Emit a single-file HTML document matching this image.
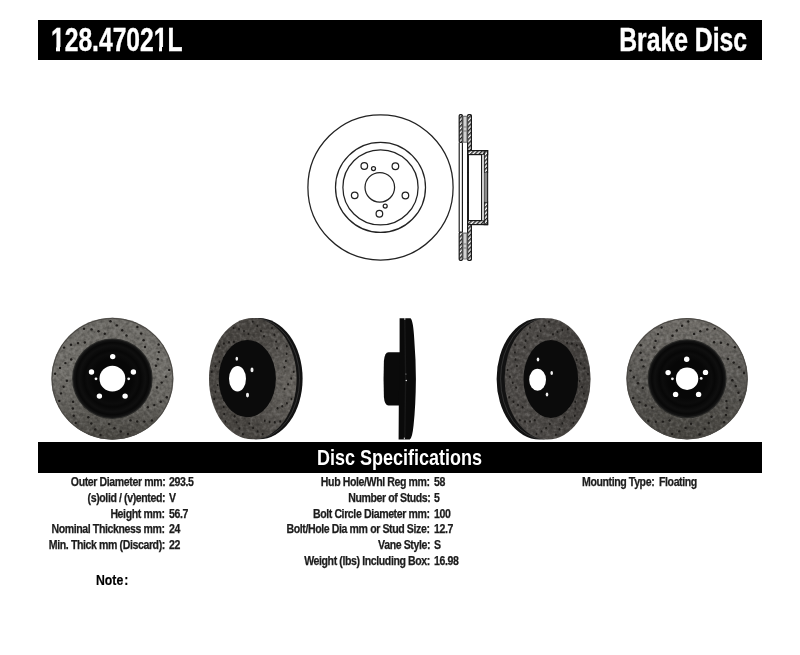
<!DOCTYPE html>
<html><head><meta charset="utf-8">
<style>
*{margin:0;padding:0;box-sizing:border-box}
html,body{width:800px;height:655px;background:#fff;overflow:hidden}
body{position:relative;font-family:"Liberation Sans",sans-serif;font-weight:bold;color:#1c1c1c}
.bar{position:absolute;background:#000}
.t{position:absolute;white-space:nowrap;line-height:1}
.l{transform-origin:right top;transform:scaleX(.88);letter-spacing:-.45px}
.r{transform-origin:left top;transform:scaleX(.88);letter-spacing:-.45px}
.s{font-size:12px;-webkit-text-stroke:.25px #1c1c1c}
</style></head><body>
<div class="bar" style="left:38px;top:20px;width:724px;height:40px"></div>
<div class="t" style="left:51.3px;top:24px;font-size:32.5px;color:#fff;-webkit-text-stroke:.4px #fff;transform-origin:left top;transform:scaleX(.758)">128.47021L</div>
<div class="t" style="right:53px;top:24px;font-size:32.5px;color:#fff;-webkit-text-stroke:.4px #fff;transform-origin:right top;transform:scaleX(.761)">Brake Disc</div>
<div class="bar" style="left:51px;top:47px;width:5.4px;height:5px"></div>
<div class="bar" style="left:60.4px;top:47px;width:4.3px;height:5px"></div>
<div class="bar" style="left:154px;top:47px;width:4.5px;height:5px"></div>
<div class="bar" style="left:162.4px;top:47px;width:4.8px;height:5px"></div>
<svg style="position:absolute;left:0;top:0" width="800" height="655" viewBox="0 0 800 655">
 <defs>
  <pattern id="hatch" width="3" height="3" patternUnits="userSpaceOnUse" patternTransform="rotate(45)">
   <rect width="3" height="3" fill="#fff"/><rect width="1.5" height="3" fill="#2a2a2a"/></pattern>
 </defs>
 <g fill="none" stroke="#222" stroke-width="1.25">
  <circle cx="380.5" cy="187.4" r="72.6"/>
  <circle cx="380.5" cy="187.4" r="45"/>
  <circle cx="380.5" cy="187.4" r="37.6"/>
  <circle cx="379.8" cy="187.3" r="14.8"/>
  <circle cx="379.4" cy="213.7" r="3.3"/>
  <circle cx="354.7" cy="195.3" r="3.3"/>
  <circle cx="364.3" cy="166" r="3.3"/>
  <circle cx="395.4" cy="166.2" r="3.3"/>
  <circle cx="405.4" cy="195.5" r="3.3"/>
  <circle cx="373.5" cy="168.6" r="2"/>
  <circle cx="385.2" cy="206" r="2"/>
 </g>
 <!-- side profile -->
 <g stroke="#181818" stroke-width="1.2">
  <rect x="459.2" y="114.6" width="3.2" height="27.8" rx="1.2" fill="url(#hatch)"/>
  <rect x="467.6" y="114.6" width="3.8" height="36" rx="1.2" fill="url(#hatch)"/>
  <rect x="459.2" y="232" width="3.2" height="28.4" rx="1.2" fill="url(#hatch)"/>
  <rect x="467.6" y="224.5" width="3.8" height="35.9" rx="1.2" fill="url(#hatch)"/>
  <rect x="467.6" y="150.6" width="20" height="4" fill="url(#hatch)"/>
  <rect x="467.6" y="220.6" width="20" height="4" fill="url(#hatch)"/>
  <rect x="484.2" y="150.6" width="3.4" height="21.8" fill="url(#hatch)"/>
  <rect x="484.2" y="202.2" width="3.4" height="22.4" fill="url(#hatch)"/>
 </g>
 <g stroke="#555" stroke-width="0.8">
  <rect x="462.8" y="116.2" width="4.4" height="26" fill="#a8a8a8"/>
  <rect x="462.8" y="233" width="4.4" height="26" fill="#a8a8a8"/>
 </g>
 <path d="M465 117 V141.5 M465 234 V258.5" stroke="#e6e6e6" stroke-width="1.3"/>
 <path d="M463.5 127 H466.5 M463.5 131 H466.5 M463.5 244 H466.5 M463.5 248 H466.5" stroke="#666" stroke-width="0.8"/>
 <g fill="none" stroke="#181818" stroke-width="1.15">
  <path d="M459.2 142.4 V232 M462.4 142.4 V232 M467.6 150.6 V224.6 M468.4 154.6 V220.6 M481.6 154.6 V220.6 M484.2 172.4 V202.2 M487.6 172.4 V202.2"/>
 </g>
 <rect x="482" y="154.8" width="2" height="65.6" fill="#d0d0d0"/>
 <rect x="484.7" y="172.4" width="2.4" height="29.8" fill="#8a8a8a"/>
</svg>
<svg style="position:absolute;left:0;top:0" width="800" height="655" viewBox="0 0 800 655"><defs>
<linearGradient id="rim1" x1="0" y1="0" x2="0" y2="1">
 <stop offset="0" stop-color="#6c6a65"/><stop offset="0.45" stop-color="#716f6a"/><stop offset="0.75" stop-color="#5f5d58"/><stop offset="1" stop-color="#46443f"/></linearGradient>
<radialGradient id="rim2" cx="0.92" cy="0.55" r="0.55">
 <stop offset="0" stop-color="#66635e"/><stop offset="0.6" stop-color="#55524e"/><stop offset="1" stop-color="#484541"/></radialGradient>
<linearGradient id="rim4" x1="0" y1="0" x2="1" y2="0">
 <stop offset="0" stop-color="#4d4a47"/><stop offset="0.5" stop-color="#4a4744"/><stop offset="1" stop-color="#403d3a"/></linearGradient>
<linearGradient id="rim5" x1="0" y1="0" x2="0" y2="1">
 <stop offset="0" stop-color="#716e69"/><stop offset="0.5" stop-color="#5a5854"/><stop offset="1" stop-color="#46443f"/></linearGradient>
<radialGradient id="hat"><stop offset="0.5" stop-color="#070707"/><stop offset="0.64" stop-color="#0c0c0c"/><stop offset="0.72" stop-color="#070707"/><stop offset="0.84" stop-color="#0f0f0f"/><stop offset="0.92" stop-color="#080808"/><stop offset="1" stop-color="#161616"/></radialGradient>
<filter id="nzw" x="0" y="0" width="100%" height="100%">
 <feTurbulence type="fractalNoise" baseFrequency="0.3" numOctaves="2" seed="7" result="t"/>
 <feColorMatrix in="t" type="matrix" values="0 0 0 0 1  0 0 0 0 1  0 0 0 0 1  0.4 0 0 0 -0.2" result="g"/>
 <feComposite in="g" in2="SourceAlpha" operator="in"/>
</filter>
<filter id="nzb" x="0" y="0" width="100%" height="100%">
 <feTurbulence type="fractalNoise" baseFrequency="0.3" numOctaves="2" seed="7" result="t"/>
 <feColorMatrix in="t" type="matrix" values="0 0 0 0 0  0 0 0 0 0  0 0 0 0 0  -0.65 0 0 0 0.325" result="g"/>
 <feComposite in="g" in2="SourceAlpha" operator="in"/>
</filter>
</defs><circle cx="112.4" cy="378.7" r="61" fill="url(#rim1)"/>
<circle cx="112.4" cy="378.7" r="61" fill="#000" filter="url(#nzw)"/>
<circle cx="112.4" cy="378.7" r="61" fill="#000" filter="url(#nzb)"/>
<circle cx="112.4" cy="378.7" r="60.4" fill="none" stroke="#4a4844" stroke-width="1"/>
<g fill="#1e1c1a"><ellipse cx="110.5" cy="321.2" rx="1.2" ry="1.2"/><ellipse cx="116.8" cy="325.4" rx="1.2" ry="1.2"/><ellipse cx="122.2" cy="330.2" rx="1.2" ry="1.2"/><ellipse cx="126.5" cy="335.5" rx="1.2" ry="1.2"/><ellipse cx="137.4" cy="326.9" rx="1.2" ry="1.2"/><ellipse cx="141.1" cy="333.6" rx="1.2" ry="1.2"/><ellipse cx="143.6" cy="340.3" rx="1.2" ry="1.2"/><ellipse cx="145.0" cy="347.0" rx="1.2" ry="1.2"/><ellipse cx="158.6" cy="344.5" rx="1.2" ry="1.2"/><ellipse cx="158.8" cy="352.1" rx="1.2" ry="1.2"/><ellipse cx="157.9" cy="359.2" rx="1.2" ry="1.2"/><ellipse cx="156.0" cy="365.8" rx="1.2" ry="1.2"/><ellipse cx="169.2" cy="369.9" rx="1.2" ry="1.2"/><ellipse cx="165.9" cy="376.7" rx="1.2" ry="1.2"/><ellipse cx="161.7" cy="382.6" rx="1.2" ry="1.2"/><ellipse cx="157.0" cy="387.5" rx="1.2" ry="1.2"/><ellipse cx="166.8" cy="397.3" rx="1.2" ry="1.2"/><ellipse cx="160.7" cy="401.8" rx="1.2" ry="1.2"/><ellipse cx="154.3" cy="405.1" rx="1.2" ry="1.2"/><ellipse cx="147.8" cy="407.3" rx="1.2" ry="1.2"/><ellipse cx="151.9" cy="420.5" rx="1.2" ry="1.2"/><ellipse cx="144.4" cy="421.6" rx="1.2" ry="1.2"/><ellipse cx="137.2" cy="421.5" rx="1.2" ry="1.2"/><ellipse cx="130.5" cy="420.4" rx="1.2" ry="1.2"/><ellipse cx="128.0" cy="434.0" rx="1.2" ry="1.2"/><ellipse cx="120.8" cy="431.5" rx="1.2" ry="1.2"/><ellipse cx="114.5" cy="428.2" rx="1.2" ry="1.2"/><ellipse cx="109.0" cy="424.1" rx="1.2" ry="1.2"/><ellipse cx="100.5" cy="435.0" rx="1.2" ry="1.2"/><ellipse cx="95.3" cy="429.4" rx="1.2" ry="1.2"/><ellipse cx="91.3" cy="423.5" rx="1.2" ry="1.2"/><ellipse cx="88.3" cy="417.3" rx="1.2" ry="1.2"/><ellipse cx="75.7" cy="423.0" rx="1.2" ry="1.2"/><ellipse cx="73.7" cy="415.7" rx="1.2" ry="1.2"/><ellipse cx="72.9" cy="408.5" rx="1.2" ry="1.2"/><ellipse cx="73.1" cy="401.7" rx="1.2" ry="1.2"/><ellipse cx="59.3" cy="400.9" rx="1.2" ry="1.2"/><ellipse cx="61.0" cy="393.4" rx="1.2" ry="1.2"/><ellipse cx="63.6" cy="386.7" rx="1.2" ry="1.2"/><ellipse cx="66.9" cy="380.8" rx="1.2" ry="1.2"/><ellipse cx="55.1" cy="373.7" rx="1.2" ry="1.2"/><ellipse cx="60.0" cy="367.9" rx="1.2" ry="1.2"/><ellipse cx="65.4" cy="363.1" rx="1.2" ry="1.2"/><ellipse cx="71.2" cy="359.5" rx="1.2" ry="1.2"/><ellipse cx="64.0" cy="347.6" rx="1.2" ry="1.2"/><ellipse cx="71.0" cy="344.8" rx="1.2" ry="1.2"/><ellipse cx="78.0" cy="343.1" rx="1.2" ry="1.2"/><ellipse cx="84.8" cy="342.5" rx="1.2" ry="1.2"/><ellipse cx="84.0" cy="328.7" rx="1.2" ry="1.2"/><ellipse cx="91.6" cy="329.4" rx="1.2" ry="1.2"/><ellipse cx="98.5" cy="331.2" rx="1.2" ry="1.2"/><ellipse cx="104.8" cy="333.8" rx="1.2" ry="1.2"/></g>
<circle cx="112.4" cy="378.7" r="40.3" fill="#2a2a28"/>
<circle cx="112.4" cy="378.7" r="39.3" fill="url(#hat)"/>
<circle cx="112.4" cy="378.7" r="12.9" fill="#fff"/>
<circle cx="112.7" cy="356.6" r="2.7" fill="#fff"/>
<circle cx="91.5" cy="372" r="2.7" fill="#fff"/>
<circle cx="133.4" cy="372" r="2.7" fill="#fff"/>
<circle cx="99.4" cy="396.1" r="2.7" fill="#fff"/>
<circle cx="125.1" cy="396.1" r="2.7" fill="#fff"/>
<circle cx="96" cy="378.8" r="1.4" fill="#f4f4f4"/>
<circle cx="128.7" cy="378.8" r="1.4" fill="#f4f4f4"/>
<ellipse cx="258.8" cy="378.7" rx="43.8" ry="60.6" fill="#121212"/>
<ellipse cx="255.8" cy="378.7" rx="43.8" ry="60.1" fill="none" stroke="#3a3a3a" stroke-width="0.8"/>
<ellipse cx="252.8" cy="378.7" rx="43.8" ry="60.6" fill="url(#rim2)"/>
<ellipse cx="252.8" cy="378.7" rx="43.8" ry="60.6" fill="#000" filter="url(#nzw)"/>
<ellipse cx="252.8" cy="378.7" rx="43.8" ry="60.6" fill="#000" filter="url(#nzb)"/>
<g fill="#1e1c1a"><ellipse cx="252.8" cy="321.6" rx="0.9" ry="1.2"/><ellipse cx="257.3" cy="325.9" rx="0.9" ry="1.2"/><ellipse cx="261.0" cy="330.9" rx="0.9" ry="1.2"/><ellipse cx="264.0" cy="336.2" rx="0.9" ry="1.2"/><ellipse cx="272.0" cy="328.1" rx="0.9" ry="1.2"/><ellipse cx="274.5" cy="334.8" rx="0.9" ry="1.2"/><ellipse cx="276.1" cy="341.6" rx="0.9" ry="1.2"/><ellipse cx="277.0" cy="348.3" rx="0.9" ry="1.2"/><ellipse cx="286.8" cy="346.3" rx="0.9" ry="1.2"/><ellipse cx="286.7" cy="353.8" rx="0.9" ry="1.2"/><ellipse cx="285.9" cy="360.9" rx="0.9" ry="1.2"/><ellipse cx="284.4" cy="367.3" rx="0.9" ry="1.2"/><ellipse cx="293.8" cy="371.8" rx="0.9" ry="1.2"/><ellipse cx="291.2" cy="378.5" rx="0.9" ry="1.2"/><ellipse cx="288.1" cy="384.2" rx="0.9" ry="1.2"/><ellipse cx="284.6" cy="388.9" rx="0.9" ry="1.2"/><ellipse cx="291.4" cy="399.0" rx="0.9" ry="1.2"/><ellipse cx="286.9" cy="403.2" rx="0.9" ry="1.2"/><ellipse cx="282.2" cy="406.3" rx="0.9" ry="1.2"/><ellipse cx="277.5" cy="408.2" rx="0.9" ry="1.2"/><ellipse cx="280.2" cy="421.5" rx="0.9" ry="1.2"/><ellipse cx="274.8" cy="422.3" rx="0.9" ry="1.2"/><ellipse cx="269.6" cy="422.0" rx="0.9" ry="1.2"/><ellipse cx="264.8" cy="420.7" rx="0.9" ry="1.2"/><ellipse cx="262.7" cy="434.2" rx="0.9" ry="1.2"/><ellipse cx="257.6" cy="431.4" rx="0.9" ry="1.2"/><ellipse cx="253.1" cy="427.9" rx="0.9" ry="1.2"/><ellipse cx="249.3" cy="423.6" rx="0.9" ry="1.2"/><ellipse cx="242.9" cy="434.2" rx="0.9" ry="1.2"/><ellipse cx="239.3" cy="428.5" rx="0.9" ry="1.2"/><ellipse cx="236.6" cy="422.4" rx="0.9" ry="1.2"/><ellipse cx="234.6" cy="416.2" rx="0.9" ry="1.2"/><ellipse cx="225.4" cy="421.5" rx="0.9" ry="1.2"/><ellipse cx="224.2" cy="414.1" rx="0.9" ry="1.2"/><ellipse cx="223.7" cy="407.0" rx="0.9" ry="1.2"/><ellipse cx="224.1" cy="400.2" rx="0.9" ry="1.2"/><ellipse cx="214.2" cy="399.0" rx="0.9" ry="1.2"/><ellipse cx="215.5" cy="391.7" rx="0.9" ry="1.2"/><ellipse cx="217.6" cy="385.1" rx="0.9" ry="1.2"/><ellipse cx="220.1" cy="379.3" rx="0.9" ry="1.2"/><ellipse cx="211.8" cy="371.8" rx="0.9" ry="1.2"/><ellipse cx="215.5" cy="366.2" rx="0.9" ry="1.2"/><ellipse cx="219.5" cy="361.7" rx="0.9" ry="1.2"/><ellipse cx="223.7" cy="358.2" rx="0.9" ry="1.2"/><ellipse cx="218.8" cy="346.3" rx="0.9" ry="1.2"/><ellipse cx="223.9" cy="343.6" rx="0.9" ry="1.2"/><ellipse cx="229.0" cy="342.2" rx="0.9" ry="1.2"/><ellipse cx="233.9" cy="341.8" rx="0.9" ry="1.2"/><ellipse cx="233.6" cy="328.1" rx="0.9" ry="1.2"/><ellipse cx="239.0" cy="329.1" rx="0.9" ry="1.2"/><ellipse cx="244.0" cy="331.1" rx="0.9" ry="1.2"/><ellipse cx="248.4" cy="333.9" rx="0.9" ry="1.2"/></g>
<ellipse cx="247.3" cy="378.6" rx="28.6" ry="38.7" fill="#0b0b0b"/>
<ellipse cx="237.5" cy="378.7" rx="8.5" ry="12.7" fill="#fff"/>
<ellipse cx="236.8" cy="358.8" rx="1.3" ry="2" fill="#f0f0f0"/>
<ellipse cx="252" cy="369.9" rx="1.5" ry="2.3" fill="#f0f0f0"/>
<ellipse cx="247.5" cy="395.1" rx="1.5" ry="2.3" fill="#f0f0f0"/>
<g fill="#0a0a0a">
<path d="M388.5 352.2 L400.5 352.2 L400.5 405.6 L388.5 405.6 Q384.6 405.6 383.9 397 Q383.2 379 383.9 361 Q384.6 352.2 388.5 352.2 Z"/>
<path d="M399.6 318.2 L410.5 318.2 Q413.2 320 414.3 340 Q415.9 360 415.9 379 Q415.7 405 413.6 425 Q412.3 438 409.8 439.6 L398.6 439.6 L398.8 404 L399.6 352 Z"/>
</g>
<g fill="none" stroke="#181818" stroke-width="1.4"><path d="M404.8 320 Q406.5 379 404.8 438"/></g>
<rect x="404.2" y="318" width="1.2" height="1.8" fill="#bbb"/><rect x="403.8" y="437.6" width="1.2" height="1.8" fill="#bbb"/><circle cx="405.9" cy="374" r="0.6" fill="#999"/><circle cx="406.3" cy="380.5" r="0.8" fill="#ddd"/>
<ellipse cx="539.6" cy="378.9" rx="43" ry="60.6" fill="#121212"/>
<ellipse cx="543.6" cy="378.9" rx="43" ry="60.1" fill="none" stroke="#3a3a3a" stroke-width="0.8"/>
<ellipse cx="547.6" cy="378.9" rx="43" ry="60.6" fill="url(#rim4)"/>
<ellipse cx="547.6" cy="378.9" rx="43" ry="60.6" fill="#000" filter="url(#nzw)"/>
<ellipse cx="547.6" cy="378.9" rx="43" ry="60.6" fill="#000" filter="url(#nzb)"/>
<g fill="#1e1c1a"><ellipse cx="549.0" cy="321.8" rx="0.9" ry="1.2"/><ellipse cx="544.5" cy="325.9" rx="0.9" ry="1.2"/><ellipse cx="540.7" cy="330.7" rx="0.9" ry="1.2"/><ellipse cx="537.7" cy="335.9" rx="0.9" ry="1.2"/><ellipse cx="567.7" cy="329.3" rx="0.9" ry="1.2"/><ellipse cx="562.4" cy="330.0" rx="0.9" ry="1.2"/><ellipse cx="557.4" cy="331.7" rx="0.9" ry="1.2"/><ellipse cx="553.0" cy="334.3" rx="0.9" ry="1.2"/><ellipse cx="581.7" cy="348.1" rx="0.9" ry="1.2"/><ellipse cx="576.8" cy="345.2" rx="0.9" ry="1.2"/><ellipse cx="571.9" cy="343.6" rx="0.9" ry="1.2"/><ellipse cx="567.1" cy="343.0" rx="0.9" ry="1.2"/><ellipse cx="588.0" cy="374.0" rx="0.9" ry="1.2"/><ellipse cx="584.5" cy="368.2" rx="0.9" ry="1.2"/><ellipse cx="580.7" cy="363.5" rx="0.9" ry="1.2"/><ellipse cx="576.7" cy="359.9" rx="0.9" ry="1.2"/><ellipse cx="585.0" cy="401.0" rx="0.9" ry="1.2"/><ellipse cx="583.8" cy="393.6" rx="0.9" ry="1.2"/><ellipse cx="582.0" cy="387.0" rx="0.9" ry="1.2"/><ellipse cx="579.6" cy="381.1" rx="0.9" ry="1.2"/><ellipse cx="573.4" cy="423.0" rx="0.9" ry="1.2"/><ellipse cx="574.8" cy="415.7" rx="0.9" ry="1.2"/><ellipse cx="575.4" cy="408.6" rx="0.9" ry="1.2"/><ellipse cx="575.2" cy="401.8" rx="0.9" ry="1.2"/><ellipse cx="555.9" cy="434.8" rx="0.9" ry="1.2"/><ellipse cx="559.6" cy="429.3" rx="0.9" ry="1.2"/><ellipse cx="562.4" cy="423.4" rx="0.9" ry="1.2"/><ellipse cx="564.5" cy="417.3" rx="0.9" ry="1.2"/><ellipse cx="536.5" cy="433.9" rx="0.9" ry="1.2"/><ellipse cx="541.6" cy="431.4" rx="0.9" ry="1.2"/><ellipse cx="546.1" cy="428.0" rx="0.9" ry="1.2"/><ellipse cx="549.9" cy="424.0" rx="0.9" ry="1.2"/><ellipse cx="519.7" cy="420.3" rx="0.9" ry="1.2"/><ellipse cx="525.0" cy="421.4" rx="0.9" ry="1.2"/><ellipse cx="530.0" cy="421.4" rx="0.9" ry="1.2"/><ellipse cx="534.8" cy="420.3" rx="0.9" ry="1.2"/><ellipse cx="509.2" cy="397.3" rx="0.9" ry="1.2"/><ellipse cx="513.5" cy="401.7" rx="0.9" ry="1.2"/><ellipse cx="518.0" cy="405.0" rx="0.9" ry="1.2"/><ellipse cx="522.6" cy="407.2" rx="0.9" ry="1.2"/><ellipse cx="507.6" cy="370.0" rx="0.9" ry="1.2"/><ellipse cx="509.9" cy="376.8" rx="0.9" ry="1.2"/><ellipse cx="512.8" cy="382.7" rx="0.9" ry="1.2"/><ellipse cx="516.1" cy="387.6" rx="0.9" ry="1.2"/><ellipse cx="515.1" cy="344.8" rx="0.9" ry="1.2"/><ellipse cx="514.9" cy="352.4" rx="0.9" ry="1.2"/><ellipse cx="515.5" cy="359.5" rx="0.9" ry="1.2"/><ellipse cx="516.9" cy="366.0" rx="0.9" ry="1.2"/><ellipse cx="530.0" cy="327.4" rx="0.9" ry="1.2"/><ellipse cx="527.4" cy="334.0" rx="0.9" ry="1.2"/><ellipse cx="525.6" cy="340.7" rx="0.9" ry="1.2"/><ellipse cx="524.6" cy="347.3" rx="0.9" ry="1.2"/></g>
<ellipse cx="550.8" cy="379" rx="27.3" ry="39" fill="#0b0b0b"/>
<ellipse cx="537.6" cy="379.8" rx="8.4" ry="11" fill="#fff"/>
<ellipse cx="538" cy="359.6" rx="1.3" ry="2" fill="#f0f0f0"/>
<ellipse cx="551.7" cy="373.1" rx="1.3" ry="2" fill="#f0f0f0"/>
<ellipse cx="547" cy="394.5" rx="1.3" ry="2" fill="#f0f0f0"/>
<circle cx="687.1" cy="378.7" r="60.7" fill="url(#rim5)"/>
<circle cx="687.1" cy="378.7" r="60.7" fill="#000" filter="url(#nzw)"/>
<circle cx="687.1" cy="378.7" r="60.7" fill="#000" filter="url(#nzb)"/>
<circle cx="687.1" cy="378.7" r="60.1" fill="none" stroke="#4a4844" stroke-width="1"/>
<g fill="#1e1c1a"><ellipse cx="688.3" cy="321.5" rx="1.2" ry="1.2"/><ellipse cx="682.0" cy="325.7" rx="1.2" ry="1.2"/><ellipse cx="676.7" cy="330.5" rx="1.2" ry="1.2"/><ellipse cx="672.5" cy="335.8" rx="1.2" ry="1.2"/><ellipse cx="714.7" cy="328.6" rx="1.2" ry="1.2"/><ellipse cx="707.2" cy="329.4" rx="1.2" ry="1.2"/><ellipse cx="700.3" cy="331.2" rx="1.2" ry="1.2"/><ellipse cx="694.1" cy="334.0" rx="1.2" ry="1.2"/><ellipse cx="734.9" cy="347.2" rx="1.2" ry="1.2"/><ellipse cx="727.8" cy="344.4" rx="1.2" ry="1.2"/><ellipse cx="720.9" cy="342.8" rx="1.2" ry="1.2"/><ellipse cx="714.1" cy="342.3" rx="1.2" ry="1.2"/><ellipse cx="744.0" cy="373.0" rx="1.2" ry="1.2"/><ellipse cx="739.1" cy="367.3" rx="1.2" ry="1.2"/><ellipse cx="733.7" cy="362.6" rx="1.2" ry="1.2"/><ellipse cx="727.9" cy="359.0" rx="1.2" ry="1.2"/><ellipse cx="740.2" cy="400.1" rx="1.2" ry="1.2"/><ellipse cx="738.4" cy="392.8" rx="1.2" ry="1.2"/><ellipse cx="735.8" cy="386.1" rx="1.2" ry="1.2"/><ellipse cx="732.3" cy="380.3" rx="1.2" ry="1.2"/><ellipse cx="724.1" cy="422.3" rx="1.2" ry="1.2"/><ellipse cx="726.0" cy="415.0" rx="1.2" ry="1.2"/><ellipse cx="726.8" cy="407.9" rx="1.2" ry="1.2"/><ellipse cx="726.4" cy="401.1" rx="1.2" ry="1.2"/><ellipse cx="699.6" cy="434.5" rx="1.2" ry="1.2"/><ellipse cx="704.7" cy="428.9" rx="1.2" ry="1.2"/><ellipse cx="708.7" cy="423.0" rx="1.2" ry="1.2"/><ellipse cx="711.5" cy="416.8" rx="1.2" ry="1.2"/><ellipse cx="672.2" cy="434.0" rx="1.2" ry="1.2"/><ellipse cx="679.3" cy="431.4" rx="1.2" ry="1.2"/><ellipse cx="685.6" cy="427.9" rx="1.2" ry="1.2"/><ellipse cx="691.0" cy="423.8" rx="1.2" ry="1.2"/><ellipse cx="648.3" cy="420.7" rx="1.2" ry="1.2"/><ellipse cx="655.8" cy="421.7" rx="1.2" ry="1.2"/><ellipse cx="662.9" cy="421.6" rx="1.2" ry="1.2"/><ellipse cx="669.6" cy="420.5" rx="1.2" ry="1.2"/><ellipse cx="633.2" cy="397.9" rx="1.2" ry="1.2"/><ellipse cx="639.3" cy="402.2" rx="1.2" ry="1.2"/><ellipse cx="645.7" cy="405.5" rx="1.2" ry="1.2"/><ellipse cx="652.2" cy="407.5" rx="1.2" ry="1.2"/><ellipse cx="630.5" cy="370.6" rx="1.2" ry="1.2"/><ellipse cx="633.9" cy="377.3" rx="1.2" ry="1.2"/><ellipse cx="638.0" cy="383.2" rx="1.2" ry="1.2"/><ellipse cx="642.8" cy="388.0" rx="1.2" ry="1.2"/><ellipse cx="640.7" cy="345.2" rx="1.2" ry="1.2"/><ellipse cx="640.6" cy="352.8" rx="1.2" ry="1.2"/><ellipse cx="641.6" cy="359.9" rx="1.2" ry="1.2"/><ellipse cx="643.5" cy="366.4" rx="1.2" ry="1.2"/><ellipse cx="661.6" cy="327.5" rx="1.2" ry="1.2"/><ellipse cx="658.0" cy="334.1" rx="1.2" ry="1.2"/><ellipse cx="655.6" cy="340.9" rx="1.2" ry="1.2"/><ellipse cx="654.3" cy="347.5" rx="1.2" ry="1.2"/></g>
<circle cx="687.1" cy="378.7" r="39.5" fill="#2a2a28"/>
<circle cx="687.1" cy="378.7" r="38.5" fill="url(#hat)"/>
<circle cx="687.1" cy="378.7" r="11.2" fill="#fff"/>
<circle cx="686.7" cy="359.2" r="2.7" fill="#fff"/>
<circle cx="668.1" cy="372.6" r="2.7" fill="#fff"/>
<circle cx="705.5" cy="372.4" r="2.7" fill="#fff"/>
<circle cx="675.6" cy="394.4" r="2.7" fill="#fff"/>
<circle cx="698.6" cy="394.4" r="2.7" fill="#fff"/>
<circle cx="672.4" cy="378.8" r="1.4" fill="#f4f4f4"/>
<circle cx="701.2" cy="378.4" r="1.4" fill="#f4f4f4"/></svg>
<div class="bar" style="left:38px;top:442px;width:724px;height:31px"></div>
<div class="t" style="left:317.3px;top:446.7px;font-size:22.3px;color:#fff;transform-origin:left top;transform:scaleX(.807)">Disc Specifications</div>
<div class="t s l" style="right:635px;top:476.00px">Outer Diameter mm:</div>
<div class="t s r" style="left:169px;top:476.00px">293.5</div>
<div class="t s l" style="right:635px;top:491.75px">(s)olid / (v)ented:</div>
<div class="t s r" style="left:169px;top:491.75px">V</div>
<div class="t s l" style="right:635px;top:507.50px">Height mm:</div>
<div class="t s r" style="left:169px;top:507.50px">56.7</div>
<div class="t s l" style="right:635px;top:523.25px">Nominal Thickness mm:</div>
<div class="t s r" style="left:169px;top:523.25px">24</div>
<div class="t s l" style="right:635px;top:539.00px">Min. Thick mm (Discard):</div>
<div class="t s r" style="left:169px;top:539.00px">22</div>
<div class="t s l" style="right:370px;top:476.00px">Hub Hole/Whl Reg mm:</div>
<div class="t s r" style="left:434px;top:476.00px">58</div>
<div class="t s l" style="right:370px;top:491.75px">Number of Studs:</div>
<div class="t s r" style="left:434px;top:491.75px">5</div>
<div class="t s l" style="right:370px;top:507.50px">Bolt Circle Diameter mm:</div>
<div class="t s r" style="left:434px;top:507.50px">100</div>
<div class="t s l" style="right:370px;top:523.25px">Bolt/Hole Dia mm or Stud Size:</div>
<div class="t s r" style="left:434px;top:523.25px">12.7</div>
<div class="t s l" style="right:370px;top:539.00px">Vane Style:</div>
<div class="t s r" style="left:434px;top:539.00px">S</div>
<div class="t s l" style="right:370px;top:554.75px">Weight (lbs) Including Box:</div>
<div class="t s r" style="left:434px;top:554.75px">16.98</div>
<div class="t s r" style="left:582px;top:476px">Mounting Type:</div>
<div class="t s r" style="left:659px;top:476px">Floating</div>
<div class="t" style="left:96.3px;top:572.5px;font-size:14.6px;color:#000;-webkit-text-stroke:.2px #000;transform-origin:left top;transform:scaleX(.84)">Not<span style="letter-spacing:1.2px">e</span>:</div>
</body></html>
